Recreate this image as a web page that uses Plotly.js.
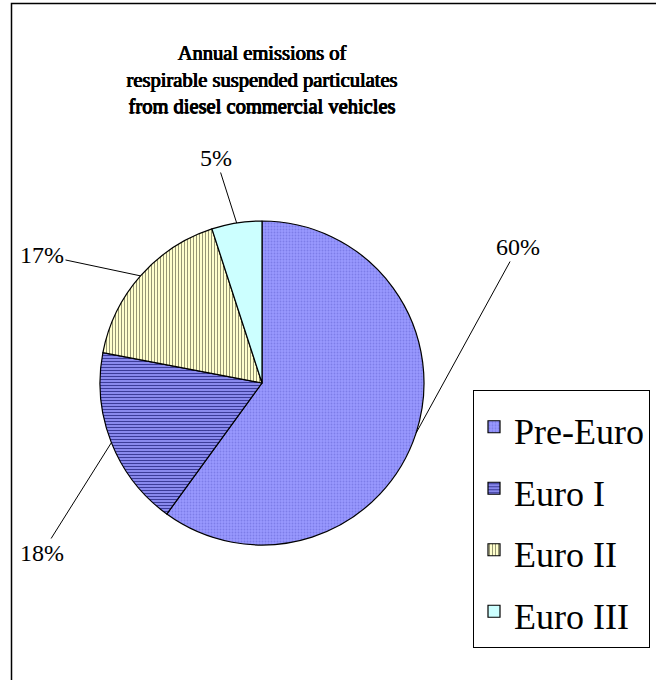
<!DOCTYPE html>
<html>
<head>
<meta charset="utf-8">
<script src="https://cdn.plot.ly/plotly-3.0.1.min.js"></script>
<style>html,body{margin:0;padding:0;background:#fff;}#chart{width:656px;height:680px;}</style>
</head>
<body>
<div id="chart"></div>
<script>
// ---- data ----
var categories = ["Pre-Euro", "Euro I", "Euro II", "Euro III"];
var shares = [60, 18, 17, 5];
var chartTitle = "Annual emissions of<br>respirable suspended particulates<br>from diesel commercial vehicles";

// ---- styling / layout ----
var W = 656, H = 680;
var pieCx = 262, pieCy = 383, pieR = 162;
var sliceColors = ["#9999ff", "#9999ff", "#ffffcc", "#ccffff"];
var patShapes = [".", "-", "|", ""];
var patFg = ["#7d7de8", "#3c3c99", "#8a8a6a", "#ccffff"];
var patSolidity = [0.3, 0.45, 0.3, 0.3];
var labelCenters = [[518, 247], [42, 553], [42, 255], [216, 158]]; // pixel positions of % labels
var serif = "Liberation Serif";

var total = shares.reduce(function (a, b) { return a + b; }, 0);

var pie = {
  type: "pie",
  labels: categories.map(function (c) { return '<span style="font-size:36px">' + c + '</span>'; }),
  values: shares,
  sort: false,
  direction: "clockwise",
  rotation: 0,
  textinfo: "none",
  hoverinfo: "none",
  marker: {
    colors: sliceColors,
    line: { color: "#000", width: 1.2 },
    pattern: { shape: patShapes, fgcolor: patFg, bgcolor: sliceColors, size: 3, solidity: patSolidity, fillmode: "replace" }
  },
  domain: {
    x: [(pieCx - pieR) / W, (pieCx + pieR) / W],
    y: [1 - (pieCy + pieR) / H, 1 - (pieCy - pieR) / H]
  }
};

// leader-line annotations pointing to slice mid-angles
var annotations = [];
var cum = 0;
shares.forEach(function (v, i) {
  var mid = (cum + v / 2) / total * 2 * Math.PI;
  cum += v;
  var tx = pieCx + pieR * Math.sin(mid);
  var ty = pieCy - pieR * Math.cos(mid);
  var pct = Math.round(v / total * 100) + "%";
  annotations.push({
    xref: "paper", yref: "paper",
    x: tx / W, y: 1 - ty / H,
    ax: labelCenters[i][0] - tx, ay: labelCenters[i][1] - ty,
    text: pct, showarrow: true, arrowhead: 0, arrowwidth: 1, arrowcolor: "#000",
    standoff: 0, startstandoff: 0,
    font: { family: serif, size: 24, color: "#000" }
  });
});

var layout = {
  width: W, height: H,
  margin: { l: 0, r: 0, t: 0, b: 0, pad: 0, autoexpand: false },
  paper_bgcolor: "#fff",
  font: { family: serif, color: "#000" },
  title: {
    text: chartTitle,
    x: 262 / W, xanchor: "center", xref: "paper",
    y: 1 - 60 / H, yanchor: "top", yref: "paper",
    font: { family: serif, size: 20.5, color: "#000", shadow: "0.6px 0 0 #000, -0.4px 0 0 #000, 0 0.3px 0 #000" }
  },
  showlegend: true,
  legend: {
    xref: "paper", yref: "paper",
    x: 473 / W, xanchor: "left",
    y: 1 - 390 / H, yanchor: "top",
    bordercolor: "#000", borderwidth: 1, bgcolor: "#fff",
    font: { family: serif, size: 45, color: "#000" },
    itemclick: false, itemdoubleclick: false
  },
  shapes: [{
    type: "rect", xref: "paper", yref: "paper",
    x0: 11.5 / W, x1: 1.05, y0: -0.05, y1: 1 - 3.5 / H,
    line: { color: "#000", width: 1.5 }, layer: "below"
  }],
  annotations: annotations
};

Plotly.newPlot("chart", [pie], layout, { displayModeBar: false, staticPlot: true });
</script>
</body>
</html>
